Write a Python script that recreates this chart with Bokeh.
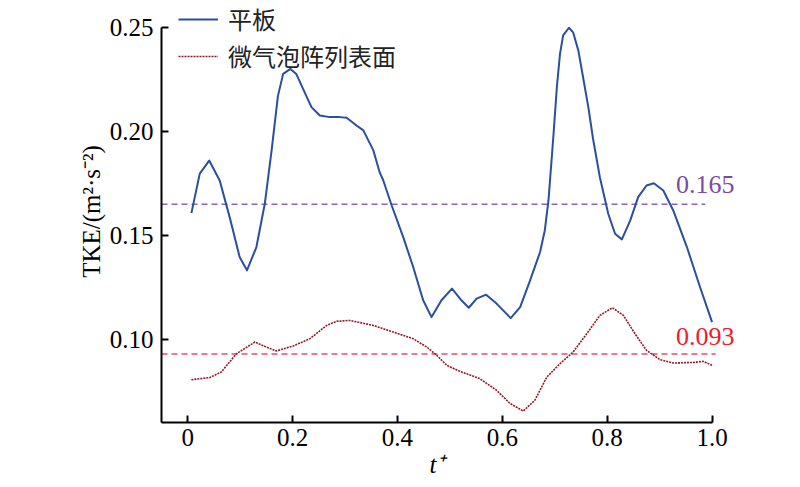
from bokeh.plotting import figure
from bokeh.models import Range1d, FixedTicker, Legend, LegendItem, Label, Title
from bokeh.embed import file_html
from bokeh.resources import INLINE

# --- data ---
flat_t = [0.007, 0.023, 0.041, 0.061, 0.080, 0.099, 0.113, 0.131, 0.147, 0.160,
          0.172, 0.182, 0.196, 0.207, 0.220, 0.236, 0.252, 0.271, 0.290, 0.303,
          0.322, 0.335, 0.354, 0.366, 0.373, 0.389, 0.411, 0.430, 0.449, 0.465,
          0.484, 0.504, 0.522, 0.536, 0.551, 0.569, 0.589, 0.616, 0.634, 0.653,
          0.672, 0.681, 0.688, 0.697, 0.704, 0.710, 0.716, 0.727, 0.735, 0.745,
          0.754, 0.764, 0.773, 0.786, 0.802, 0.815, 0.828, 0.844, 0.859, 0.875,
          0.889, 0.907, 0.926, 0.952, 0.977, 1.0]
flat_tke = [0.1607, 0.1797, 0.1860, 0.1764, 0.1588, 0.1396, 0.1332, 0.1444, 0.1652, 0.1909,
            0.2170, 0.2277, 0.2301, 0.2277, 0.2205, 0.2117, 0.2077, 0.2069, 0.2069, 0.2066,
            0.2029, 0.2005, 0.1909, 0.1804, 0.1764, 0.1644, 0.1492, 0.1348, 0.1188, 0.1107,
            0.1188, 0.1244, 0.1188, 0.1152, 0.1196, 0.1215, 0.1172, 0.1102, 0.1155, 0.1284,
            0.1420, 0.1524, 0.1668, 0.1965, 0.2213, 0.2373, 0.2462, 0.2499, 0.2477, 0.2389,
            0.2261, 0.2117, 0.1965, 0.1780, 0.1604, 0.1508, 0.1481, 0.1572, 0.1684, 0.1740,
            0.1751, 0.1716, 0.1620, 0.1444, 0.1252, 0.1083]

bubble_t = [0.007, 0.042, 0.064, 0.093, 0.128, 0.150, 0.169, 0.201, 0.233, 0.265,
            0.284, 0.309, 0.354, 0.392, 0.430, 0.456, 0.475, 0.494, 0.519, 0.557,
            0.589, 0.615, 0.640, 0.662, 0.685, 0.710, 0.735, 0.761, 0.786, 0.810,
            0.831, 0.853, 0.875, 0.901, 0.926, 0.964, 0.983, 1.0]
bubble_tke = [0.0806, 0.0816, 0.0843, 0.0931, 0.0987, 0.0963, 0.0944, 0.0968, 0.1003, 0.1067,
              0.1087, 0.1091, 0.1067, 0.1035, 0.1003, 0.0963, 0.0923, 0.0875, 0.0846, 0.0811,
              0.0755, 0.0691, 0.0655, 0.0707, 0.0819, 0.0883, 0.0939, 0.1027, 0.1115, 0.1152,
              0.1115, 0.1027, 0.0947, 0.0902, 0.0886, 0.0889, 0.0894, 0.0875]

flat_mean = 0.165
bubble_mean = 0.093
mean_labels = ["0.165", "0.093"]
series_names = ["平板", "微气泡阵列表面"]
x_ticks = [0, 0.2, 0.4, 0.6, 0.8, 1.0]
x_tick_labels = ["0", "0.2", "0.4", "0.6", "0.8", "1.0"]
y_ticks = [0.10, 0.15, 0.20, 0.25]
y_tick_labels = ["0.10", "0.15", "0.20", "0.25"]

SERIF = "Liberation Serif"
CJK = "Noto Sans CJK SC"

p = figure(width=784, height=487, output_backend="svg", toolbar_location=None,
           x_range=Range1d(-0.05, 1.1), y_range=Range1d(0.06, 0.263),
           min_border_left=161, min_border_right=20, min_border_top=0, min_border_bottom=65)
p.outline_line_color = None
p.grid.visible = False
p.background_fill_color = "white"
p.border_fill_color = "white"

# mean lines
p.line([-0.05, 0.987], [flat_mean, flat_mean], line_color="#8a66b8", line_width=1.5, line_dash="6 4")
p.line([-0.05, 1.007], [bubble_mean, bubble_mean], line_color="#e0506a", line_width=1.5, line_dash="6 4")

r1 = p.line(flat_t, flat_tke, line_color="#2a4ea0", line_width=2, line_join="round")
r2 = p.line(bubble_t, bubble_tke, line_color="#8e1a28", line_width=1.6, line_dash="2 1",
            line_join="round")

p.add_layout(Label(x=0.931, y=0.1745, text=mean_labels[0], text_color="#7a4aa8",
                   text_font=SERIF, text_font_size="26px", text_align="left",
                   text_baseline="middle"))
p.add_layout(Label(x=0.931, y=0.1015, text=mean_labels[1], text_color="#e8202a",
                   text_font=SERIF, text_font_size="26px", text_align="left",
                   text_baseline="middle"))

for ax in (p.xaxis[0], p.yaxis[0]):
    ax.axis_line_width = 2
    ax.axis_line_color = "black"
    ax.major_tick_in = 7
    ax.major_tick_out = 0
    ax.major_tick_line_width = 2
    ax.minor_tick_in = 0
    ax.minor_tick_out = 0
    ax.major_label_text_font = SERIF
    ax.major_label_text_font_size = "25px"
    ax.major_label_text_color = "black"
    ax.axis_label_text_font = SERIF
    ax.axis_label_text_font_size = "25px"
    ax.axis_label_text_color = "black"

p.xaxis.bounds = (-0.05, 1.0)
p.yaxis.bounds = (0.06, 0.25)
p.xaxis.ticker = FixedTicker(ticks=x_ticks)
p.xaxis.major_label_overrides = {t: l for t, l in zip(x_ticks, x_tick_labels)}
p.yaxis.ticker = FixedTicker(ticks=y_ticks)
p.yaxis.major_label_overrides = {t: l for t, l in zip(y_ticks, y_tick_labels)}
p.xaxis.major_label_standoff = 6
p.yaxis.major_label_standoff = 8
p.yaxis.axis_label = "TKE/(m²·s⁻²)"
p.yaxis.axis_label_text_font_style = "normal"
p.yaxis.axis_label_standoff = 2

xlabel = Title(text="t⁺", align="left", offset=268, text_font=SERIF, text_font_size="25px",
               text_font_style="italic", text_color="black", standoff=0)
p.add_layout(xlabel, "below")

legend = Legend(items=[LegendItem(label=series_names[0], renderers=[r1]),
                       LegendItem(label=series_names[1], renderers=[r2])],
                location=(17, 349))
legend.label_text_font = CJK
legend.label_text_font_size = "24px"
legend.label_text_color = "#222222"
legend.glyph_width = 40
legend.glyph_height = 30
legend.label_height = 30
legend.label_standoff = 10
legend.spacing = 2
legend.padding = 0
legend.margin = 0
legend.border_line_color = None
legend.background_fill_alpha = 0
p.add_layout(legend, "center")

open("out.html", "w").write(file_html(p, INLINE))
